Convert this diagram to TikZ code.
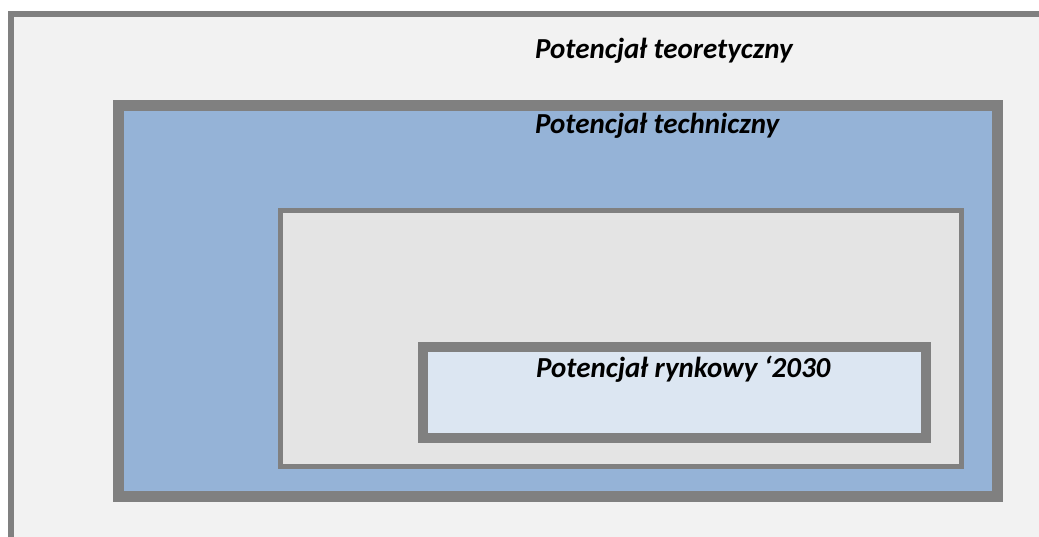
\documentclass[tikz,border=0pt]{standalone}
\usepackage{fontspec}
\setmainfont{Carlito}
\definecolor{edgegray}{HTML}{808080}
\definecolor{outerfill}{HTML}{F2F2F2}
\definecolor{bluefill}{HTML}{95B3D7}
\definecolor{grayfill}{HTML}{E4E4E4}
\definecolor{innerfill}{HTML}{DCE6F2}
\tikzset{
  frame/.style={draw=edgegray, line join=miter},
  label/.style={anchor=base west, inner sep=0pt, font=\fontsize{29}{32}\selectfont\bfseries\itshape, text=black}
}
\begin{document}
\begin{tikzpicture}[x=1pt,y=-1pt]
\useasboundingbox (0,0) rectangle (1039,536);
\fill[white] (0,0) rectangle (1039,536);
\clip (0,0) rectangle (1039,536);
\draw[frame, fill=outerfill, line width=6pt] (11,14) rectangle (1060,560);
\draw[frame, fill=bluefill, line width=11pt] (118.5,105.5) rectangle (997.5,496.5);
\draw[frame, fill=grayfill, line width=5pt] (280.5,210.5) rectangle (961.5,466.5);
\draw[frame, fill=innerfill, line width=10pt] (423,347) rectangle (926,438);
\node[label] (teo) at (535,58) {Potencjał teoretyczny};
\node[label] (tech) at (535,133) {Potencjał techniczny};
\node[label] (ryn) at (536,377) {Potencjał rynkowy ‘2030};
\end{tikzpicture}
\end{document}
